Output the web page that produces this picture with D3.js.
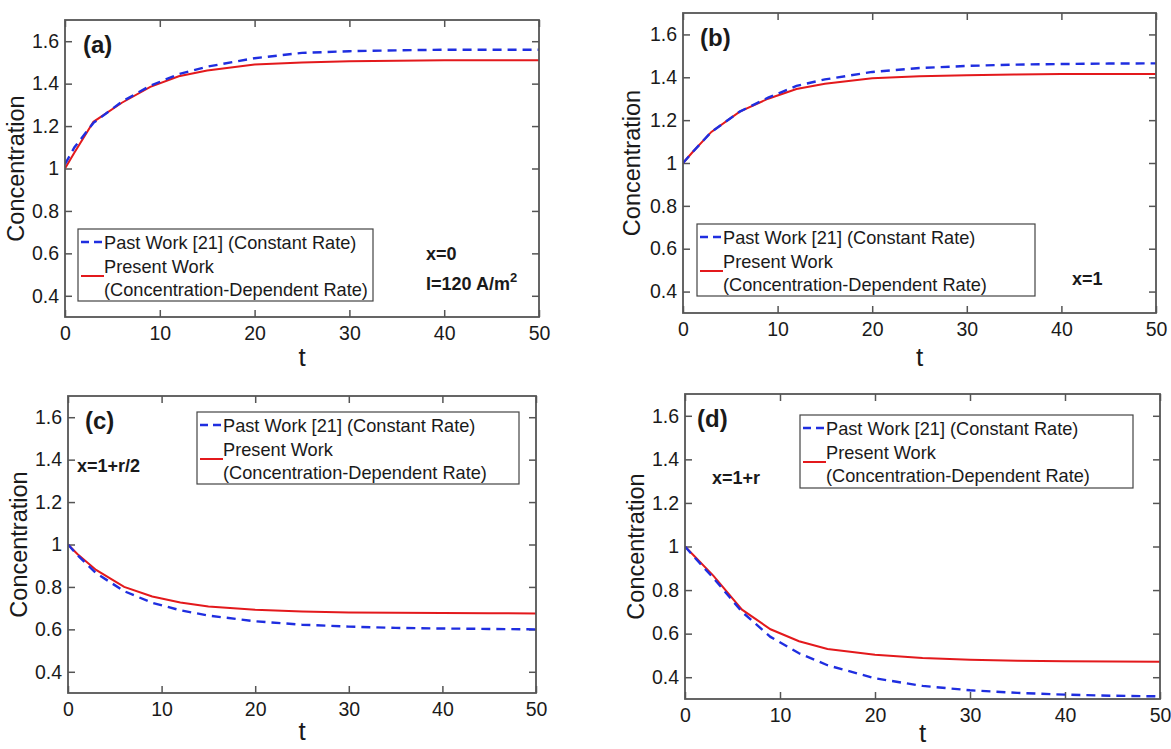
<html>
<head>
<style type="text/css">
  body { margin: 0; background: #fff; }
  text { font-family: "Liberation Sans", Arial, sans-serif; fill: #1a1a1a; }
  .frame { fill: none; stroke: #555; stroke-width: 1.8px; }
  .past { fill: none; stroke: #1f2ee0; stroke-width: 2.4px; stroke-dasharray: 9,6; }
  .present { fill: none; stroke: #e3191c; stroke-width: 2px; }
</style>
</head>
<body>
<svg id="viewport" width="1171" height="749"></svg>
<script src="https://cdn.jsdelivr.net/npm/d3@7/dist/d3.min.js"></script>
<script>
  // DATA
  var timeValues = [0, 1, 3, 6, 9, 12, 15, 20, 25, 30, 35, 40, 45, 50];

  var pastA    = [1.02, 1.10, 1.215, 1.315, 1.39, 1.445, 1.48, 1.52, 1.545, 1.553, 1.557, 1.56, 1.56, 1.56];
  var presentA = [1.00, 1.075, 1.22, 1.31, 1.385, 1.435, 1.462, 1.49, 1.50, 1.505, 1.508, 1.51, 1.51, 1.51];

  var pastB    = [1.00, 1.05, 1.145, 1.24, 1.305, 1.36, 1.39, 1.425, 1.443, 1.453, 1.459, 1.462, 1.464, 1.465];
  var presentB = [1.00, 1.05, 1.145, 1.24, 1.30, 1.345, 1.37, 1.395, 1.405, 1.41, 1.413, 1.415, 1.415, 1.415];

  var pastC    = [1.00, 0.95, 0.865, 0.78, 0.725, 0.69, 0.665, 0.638, 0.622, 0.613, 0.607, 0.604, 0.602, 0.60];
  var presentC = [1.00, 0.955, 0.88, 0.80, 0.755, 0.727, 0.708, 0.692, 0.684, 0.68, 0.678, 0.677, 0.676, 0.675];

  var pastD    = [1.00, 0.95, 0.855, 0.70, 0.585, 0.51, 0.455, 0.395, 0.36, 0.34, 0.328, 0.32, 0.315, 0.312];
  var presentD = [1.00, 0.955, 0.865, 0.71, 0.62, 0.565, 0.53, 0.503, 0.488, 0.48, 0.476, 0.473, 0.472, 0.471];

  var xTicks = [0, 10, 20, 30, 40, 50];
  var yTicks = [0.4, 0.6, 0.8, 1, 1.2, 1.4, 1.6];
  var xDomain = [0, 50];
  var yDomain = [0.3, 1.7];

  var legendLabels = ["Past Work [21] (Constant Rate)", "Present Work", "(Concentration-Dependent Rate)"];
  var panelTags = ["(a)", "(b)", "(c)", "(d)"];
  var panelNotes = [["x=0", "I=120 A/m"], ["x=1"], ["x=1+r/2"], ["x=1+r"]];

  // layout of each panel (pixels)
  var panels = [
    { past: pastA, present: presentA, left: 65, right: 539, top: 20, bottom: 317,
      legend: { x: 78, y: 229, w: 295, h: 72 }, note: { x: 426, y: 260 }, tag: { x: 83, y: 53 }, ylab: 24, xlab: 366 },
    { past: pastB, present: presentB, left: 683, right: 1156, top: 13, bottom: 313,
      legend: { x: 697, y: 224, w: 338, h: 72 }, note: { x: 1072, y: 285 }, tag: { x: 700, y: 46 }, ylab: 640, xlab: 366 },
    { past: pastC, present: presentC, left: 68, right: 536, top: 396, bottom: 693,
      legend: { x: 197, y: 412, w: 322, h: 72 }, note: { x: 77, y: 472 }, tag: { x: 85, y: 429 }, ylab: 27, xlab: 740 },
    { past: pastD, present: presentD, left: 685, right: 1160, top: 394, bottom: 699,
      legend: { x: 800, y: 415, w: 333, h: 73 }, note: { x: 712, y: 484 }, tag: { x: 697, y: 427 }, ylab: 644, xlab: 742 }
  ];

  var svg = d3.select("svg");

  panels.forEach(function(p, i) {
    var x = d3.scaleLinear().domain(xDomain).range([p.left, p.right]);
    var y = d3.scaleLinear().domain(yDomain).range([p.bottom, p.top]);
    var g = svg.append("g");

    g.append("clipPath").attr("id", "clip" + i)
      .append("rect")
      .attr("x", p.left).attr("y", p.top)
      .attr("width", p.right - p.left).attr("height", p.bottom - p.top);

    // axes with inward ticks on all four sides
    var tickLen = 7;
    var bottomAxis = d3.axisBottom(x).tickValues(xTicks).tickSizeInner(-tickLen).tickSizeOuter(0).tickPadding(9);
    var leftAxis = d3.axisLeft(y).tickValues(yTicks).tickSizeInner(-tickLen).tickSizeOuter(0).tickPadding(6)
      .tickFormat(function(d) { return d3.format("~g")(d); });

    g.append("g").attr("transform", "translate(0," + p.bottom + ")").call(bottomAxis);
    g.append("g").attr("transform", "translate(" + p.left + ",0)").call(leftAxis);
    g.append("g").attr("transform", "translate(0," + p.top + ")")
      .call(d3.axisTop(x).tickValues(xTicks).tickSizeInner(-tickLen).tickSizeOuter(0).tickFormat(""));
    g.append("g").attr("transform", "translate(" + p.right + ",0)")
      .call(d3.axisRight(y).tickValues(yTicks).tickSizeInner(-tickLen).tickSizeOuter(0).tickFormat(""));

    g.selectAll(".domain").remove();
    g.selectAll(".tick line").attr("stroke", "#555").attr("stroke-width", 1.5);
    g.selectAll(".tick text")
      .style("font-family", "'Liberation Sans', Arial, sans-serif")
      .style("font-size", "19.5px").attr("fill", "#1a1a1a");

    // data lines
    var line = d3.line()
      .x(function(d, k) { return x(timeValues[k]); })
      .y(function(d) { return y(d); });

    var lines = g.append("g").attr("clip-path", "url(#clip" + i + ")");
    lines.append("path").datum(p.present).attr("class", "present").attr("d", line);
    lines.append("path").datum(p.past).attr("class", "past").attr("d", line);

    g.append("rect").attr("class", "frame")
      .attr("x", p.left).attr("y", p.top)
      .attr("width", p.right - p.left).attr("height", p.bottom - p.top);

    // axis titles
    g.append("text")
      .attr("transform", "translate(" + p.ylab + "," + ((p.top + p.bottom) / 2) + ") rotate(-90)")
      .attr("text-anchor", "middle")
      .style("font-size", "23.5px")
      .text("Concentration");

    g.append("text")
      .attr("x", (p.left + p.right) / 2).attr("y", p.xlab)
      .attr("text-anchor", "middle")
      .style("font-size", "26px")
      .text("t");

    // panel tag
    g.append("text")
      .attr("x", p.tag.x).attr("y", p.tag.y)
      .style("font-size", "24px").style("font-weight", "bold")
      .text(panelTags[i]);

    // notes
    panelNotes[i].forEach(function(s, k) {
      var t = g.append("text")
        .attr("x", p.note.x).attr("y", p.note.y + k * 30)
        .style("font-size", "18px").style("font-weight", "bold")
        .text(s);
      if (s.indexOf("A/m") >= 0) {
        t.append("tspan").attr("dy", -8).style("font-size", "13px").text("2");
      }
    });

    // legend
    var L = p.legend;
    var leg = g.append("g");
    leg.append("rect")
      .attr("x", L.x).attr("y", L.y).attr("width", L.w).attr("height", L.h)
      .attr("fill", "#fff").attr("stroke", "#444").attr("stroke-width", 1.2);
    leg.append("line").attr("class", "past")
      .attr("x1", L.x + 3).attr("x2", L.x + 26)
      .attr("y1", L.y + 13).attr("y2", L.y + 13)
      .style("stroke-dasharray", "8,5");
    leg.append("line").attr("class", "present")
      .attr("x1", L.x + 3).attr("x2", L.x + 26)
      .attr("y1", L.y + 47).attr("y2", L.y + 47);
    legendLabels.forEach(function(s, k) {
      leg.append("text")
        .attr("x", L.x + 26).attr("y", L.y + 20 + k * 23.5)
        .style("font-size", "18.2px")
        .text(s);
    });
  });
</script>
</body>
</html>
